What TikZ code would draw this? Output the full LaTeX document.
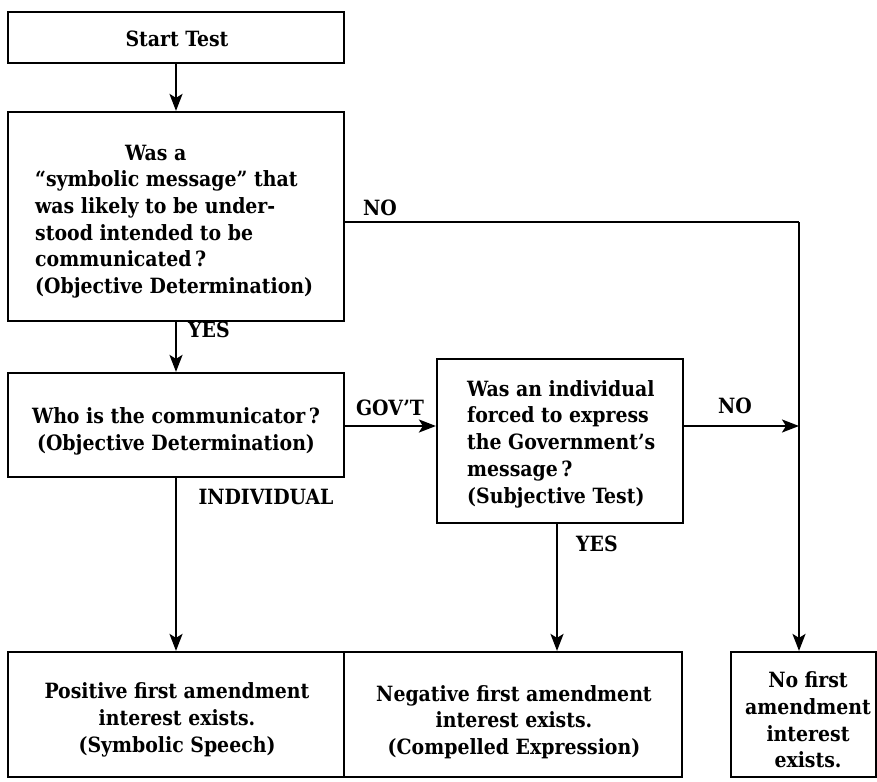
\documentclass[tikz,border=0pt]{standalone}
\usepackage{fontspec}
\setmainfont{DejaVu Serif Condensed}
\usetikzlibrary{arrows.meta}
\begin{document}
\begin{tikzpicture}[x=1pt,y=-1pt,
  box/.style={draw, line width=2.2pt, inner sep=0pt},
  txt/.style={font=\bfseries\fontsize{21}{26.7}\selectfont, inner sep=0pt},
  lbl/.style={font=\bfseries\fontsize{21}{23}\selectfont, inner sep=0pt},
  ln/.style={line width=2.2pt},
  arr/.style={line width=2.2pt, -{Stealth[length=17pt,width=13pt,inset=4pt]}}
]
\useasboundingbox (0,0) rectangle (877,781);
% boxes
\node[box, minimum width=336pt, minimum height=51pt] (start) at (176,37.5) {};
\node[box, minimum width=336pt, minimum height=209pt] (q1) at (176,216.5) {};
\node[box, minimum width=336pt, minimum height=104pt] (who) at (176,425) {};
\node[box, minimum width=246pt, minimum height=164pt] (q3) at (560,441) {};
\node[box, minimum width=336pt, minimum height=125pt] (pos) at (176,714.5) {};
\node[box, minimum width=338pt, minimum height=125pt] (neg) at (513,714.5) {};
\node[box, minimum width=145pt, minimum height=125pt] (none) at (803.5,714.5) {};
% texts
\node[txt] (starttxt) at (177,39) {Start Test};
\node[txt, align=left, anchor=west] (q1txt) at (35,221.5) {\hspace*{90pt}Was a\\“symbolic message” that\\was likely to be under-\\stood intended to be\\communicated\,?\\(Objective Determination)};
\node[txt, align=center] (whotxt) at (176,431.5) {Who is the communicator\,?\\(Objective Determination)};
\node[txt, align=left, anchor=west] (q3txt) at (467,444) {Was an individual\\forced to express\\the Government’s\\message\,?\\(Subjective Test)};
\node[txt, align=center] (postxt) at (177,720) {Positive first amendment\\interest exists.\\(Symbolic Speech)};
\node[txt, align=center] (negtxt) at (514,722) {Negative first amendment\\interest exists.\\(Compelled Expression)};
\node[txt, align=center] (notxt) at (808,720) {No first\\amendment\\interest\\exists.};
% connectors
\coordinate (nocorner) at (799,222);
\coordinate (gy) at (0,426);
\draw[arr] (start) -- (q1);
\draw[arr] (q1) -- (who);
\draw[arr] (who.east |- gy) -- (q3.west |- gy);
\draw[arr] (q3.east |- gy) -- (nocorner |- gy);
\draw[ln] (q1.east |- nocorner) -- (nocorner);
\draw[arr] (nocorner) -- (nocorner |- none.north);
\draw[arr] ([xshift=-3pt]q3.south) -- ([xshift=-3pt]q3.south |- neg.north);
\draw[arr] (who) -- (pos);
% labels
\node[lbl] (lno1) at (380,208) {NO};
\node[lbl] (lyes1) at (209,330) {YES};
\node[lbl] (lgov) at (390,408) {GOV’T};
\node[lbl] (lno2) at (735,406) {NO};
\node[lbl] (lind) at (266,497) {INDIVIDUAL};
\node[lbl] (lyes2) at (597,544) {YES};
\end{tikzpicture}
\end{document}
